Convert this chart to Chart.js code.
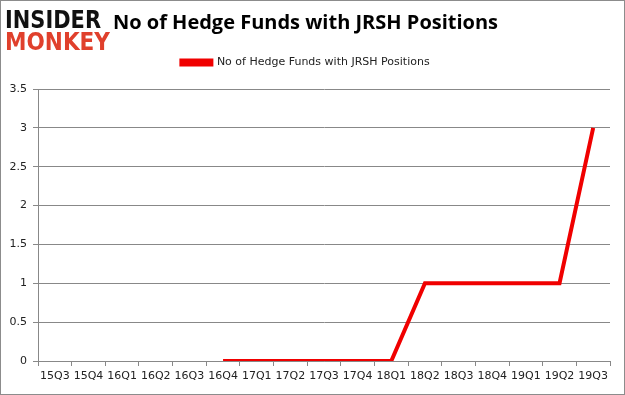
<!DOCTYPE html>
<html>
<head>
<meta charset="utf-8">
<script src="https://cdn.jsdelivr.net/npm/chart.js@4"></script>
<style>
    html, body { margin: 0; padding: 0; background: #fff; }
    #wrap { position: relative; width: 625px; height: 395px; box-sizing: border-box; border: 1px solid #8c8c8c; }
    canvas { display: block; }
</style>
</head>
<body>
<div id="wrap"><canvas id="chart" width="623" height="393"></canvas></div>
<script>
const quarters = ['15Q3', '15Q4', '16Q1', '16Q2', '16Q3', '16Q4', '17Q1', '17Q2', '17Q3',
    '17Q4', '18Q1', '18Q2', '18Q3', '18Q4', '19Q1', '19Q2', '19Q3'];
const fundCounts = [null, null, null, null, null, 0, 0, 0, 0, 0, 0, 1, 1, 1, 1, 1, 3];
const seriesName = 'No of Hedge Funds with JRSH Positions';
const chartTitle = 'No of Hedge Funds with JRSH Positions';

// Logo in the top-left corner
const logoPlugin = {
    id: 'logo',
    afterDraw(chart) {
        const ctx = chart.ctx;
        ctx.save();
        ctx.textBaseline = 'alphabetic';
        ctx.font = 'bold 24px "DejaVu Sans"';
        ctx.fillStyle = '#111';
        ctx.fillText('INSIDER', 4, 27, 96);
        ctx.fillStyle = '#e0402c';
        ctx.fillText('MONKEY', 4, 49, 105);
        ctx.restore();
    }
};

// Extra gap between legend and plot area
const legendGapPlugin = {
    id: 'legendGap',
    beforeLayout(chart) {
        const lg = chart.legend;
        if (lg && !lg._gapPatched) {
            const origFit = lg.fit.bind(lg);
            lg.fit = function() {
                origFit();
                this.height += 11;
            };
            lg._gapPatched = true;
        }
    }
};

const ctx = document.getElementById('chart').getContext('2d');
new Chart(ctx, {
    type: 'line',
    data: {
        labels: quarters,
        datasets: [{
            label: seriesName,
            data: fundCounts,
            borderColor: '#f00000',
            backgroundColor: '#f00000',
            borderWidth: 4,
            pointRadius: 0,
            tension: 0,
            spanGaps: false
        }]
    },
    options: {
        responsive: false,
        animation: false,
        layout: { padding: { left: 0, right: 14, top: 0, bottom: 0 } },
        plugins: {
            title: {
                display: true,
                text: chartTitle,
                color: '#000',
                font: { family: '"Open Sans", sans-serif', size: 20, weight: 'bold' },
                padding: { top: 10, bottom: 12 }
            },
            legend: {
                position: 'top',
                labels: {
                    color: '#222',
                    font: { family: '"DejaVu Sans", sans-serif', size: 11 },
                    boxWidth: 30,
                    boxHeight: 4,
                    padding: 10
                }
            },
            tooltip: { enabled: false }
        },
        scales: {
            x: {
                offset: true,
                grid: {
                    offset: true,
                    drawOnChartArea: false,
                    drawTicks: true,
                    tickLength: 5,
                    color: '#888'
                },
                border: { color: '#888' },
                ticks: {
                    color: '#222',
                    font: { family: '"DejaVu Sans", sans-serif', size: 11 },
                    maxRotation: 0,
                    autoSkip: false,
                    padding: 4
                },
                afterFit(scale) { scale.height = 33; }
            },
            y: {
                min: 0,
                max: 3.5,
                ticks: {
                    stepSize: 0.5,
                    color: '#222',
                    font: { family: '"DejaVu Sans", sans-serif', size: 11 },
                    padding: 6,
                    callback: v => String(v)
                },
                grid: { color: '#888', tickLength: 5 },
                border: { color: '#888' },
                afterFit(scale) { scale.width = 37; }
            }
        }
    },
    plugins: [logoPlugin, legendGapPlugin]
});
</script>
</body>
</html>
